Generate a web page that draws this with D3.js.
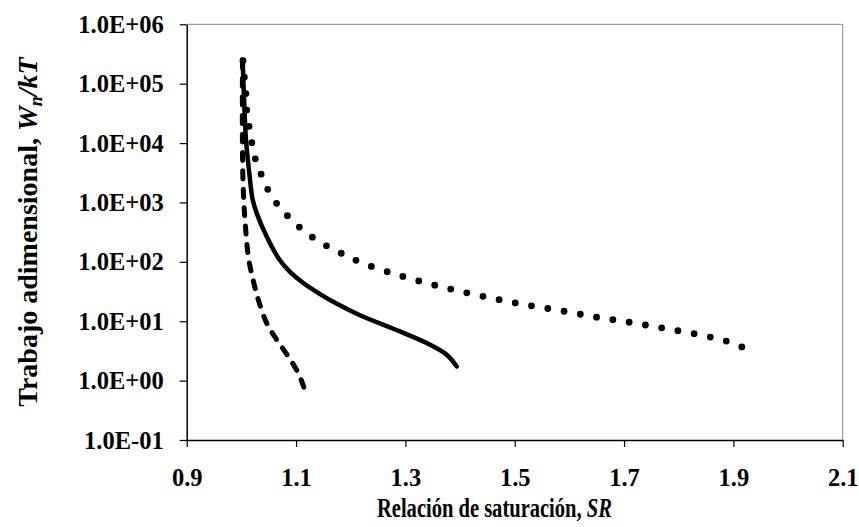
<!DOCTYPE html>
<html lang="es">

<head>
    <meta charset="UTF-8">
    <title>Trabajo adimensional vs relación de saturación</title>
    <script src="https://d3js.org/d3.v7.min.js"></script>
    <style>
        body { margin: 0; background: #fff; }
        text { font-family: "Liberation Serif", "Times New Roman", serif; font-weight: bold; fill: #000; }
    </style>
</head>

<body>
    <svg width="859" height="527"></svg>
    <script>
        // tick values
        const xTicks = [0.9, 1.1, 1.3, 1.5, 1.7, 1.9, 2.1]
        const yTicks = [1e-1, 1e0, 1e1, 1e2, 1e3, 1e4, 1e5, 1e6]

        // solid curve
        const solidSR = [1.0024, 1.005, 1.0085, 1.0145, 1.0207, 1.028, 1.0463, 1.0688, 1.089, 1.1127, 1.1402, 1.1731, 1.217, 1.290, 1.339, 1.3756, 1.394]
        const solidW = [250000, 53200, 11300, 3110, 1107, 661, 267, 112, 67.9, 44.4, 30.1, 20.0, 12.6, 6.73, 4.29, 2.73, 1.73]

        // dashed curve
        const dashSR = [1.002, 1.002, 1.0035, 1.0066, 1.0127, 1.0218, 1.031, 1.0463, 1.0646, 1.0858, 1.104, 1.1146]
        const dashW = [250000, 7670, 1630, 509, 123, 48, 23, 9.31, 4.88, 2.55, 1.34, 0.76]

        // dotted curve
        const dotSR = [1.003, 1.0055, 1.0085, 1.010, 1.0145, 1.020, 1.027, 1.038, 1.051, 1.069, 1.090, 1.112, 1.137, 1.165, 1.193, 1.220, 1.279, 1.339, 1.399, 1.460, 1.520, 1.582, 1.643, 1.704, 1.765, 1.826, 1.887, 1.916]
        const dotW = [244000, 126000, 66000, 34700, 18200, 9300, 4880, 2730, 1490, 853, 530, 346, 235, 167, 126, 96.4, 63, 43.9, 32.1, 24.2, 18.9, 15.2, 12.0, 9.8, 7.85, 6.22, 4.63, 3.67]

        let svg = d3.select('svg')
        let plotLeft = 186.7, plotRight = 842.7, plotTop = 24.3, plotBottom = 440

        let x = d3.scaleLinear().domain([0.9, 2.1]).range([plotLeft, plotRight])
        let y = d3.scaleLog().domain([1e-1, 1e6]).range([plotBottom, plotTop])

        // frame top / right
        svg.append("line").attr("x1", plotLeft).attr("x2", plotRight).attr("y1", plotTop).attr("y2", plotTop)
            .attr("stroke", "#888").attr("stroke-width", 1)
        svg.append("line").attr("x1", plotRight).attr("x2", plotRight).attr("y1", plotTop).attr("y2", plotBottom)
            .attr("stroke", "#888").attr("stroke-width", 1)

        // axes
        let xAxis = svg.append("g")
            .attr("transform", `translate(0,${plotBottom})`)
            .call(d3.axisBottom(x).tickValues(xTicks).tickFormat(d3.format(".1f")).tickSize(7).tickSizeOuter(0))
        let yAxis = svg.append("g")
            .attr("transform", `translate(${plotLeft},0)`)
            .call(d3.axisLeft(y).tickValues(yTicks)
                .tickFormat(function (d) {
                    let e = Math.round(Math.log10(d))
                    return "1.0E" + (e < 0 ? "-" : "+") + String(Math.abs(e)).padStart(2, "0")
                })
                .tickSize(7).tickSizeOuter(0))

        svg.selectAll(".domain").attr("stroke", "#000").attr("stroke-width", 1.5)
        svg.selectAll(".tick line").attr("stroke", "#000").attr("stroke-width", 1.2)
        xAxis.selectAll("text").attr("font-size", 24.5).attr("y", 0).attr("dy", 0)
            .attr("transform", "translate(0,46)")
        yAxis.selectAll("text").attr("font-size", 24.5).attr("x", -23).attr("dy", "0.33em")
        svg.selectAll(".tick text").style("font-family", '"Liberation Serif", serif').style("font-weight", "bold")

        // curves
        let line = d3.line()
            .x(function (d) { return x(d[0]) })
            .y(function (d) { return y(d[1]) })
            .curve(d3.curveCatmullRom.alpha(0.5))

        // fit a dash pattern so the path ends on a mark
        function fitDash(path, mark, gap) {
            let len = path.node().getTotalLength() - 0.5
            let n = Math.max(1, Math.round((len - mark) / (mark + gap)))
            let g = (len - mark) / n - mark
            path.attr("stroke-dasharray", mark + "," + g)
        }

        let dashPath = svg.append("path")
            .datum(d3.zip(dashSR, dashW))
            .attr("d", line)
            .attr("fill", "none").attr("stroke", "#000")
            .attr("stroke-width", 5).attr("stroke-linecap", "round")
        fitDash(dashPath, 8, 10)

        svg.append("path")
            .datum(d3.zip(solidSR, solidW))
            .attr("d", line)
            .attr("fill", "none").attr("stroke", "#000")
            .attr("stroke-width", 4.5).attr("stroke-linecap", "round")

        let dotPath = svg.append("path")
            .datum(d3.zip(dotSR, dotW))
            .attr("d", line)
            .attr("fill", "none").attr("stroke", "#000")
            .attr("stroke-width", 6.8).attr("stroke-linecap", "round")
        fitDash(dotPath, 0, 16.6)

        // axis titles (x title is drawn narrow, as in the original)
        let xt = svg.append("text")
            .attr("font-size", 27)
        xt.append("tspan").text("Relación de saturación, ")
        xt.append("tspan").attr("font-style", "italic").text("SR")
        let sx = 235 / xt.node().getComputedTextLength()
        xt.attr("transform", `translate(377,517) scale(${sx},1)`)

        let yt = svg.append("text")
            .attr("transform", "translate(37,232) rotate(-90)")
            .attr("text-anchor", "middle")
            .attr("font-size", 28)
        yt.append("tspan").text("Trabajo adimensional, ")
        yt.append("tspan").attr("font-style", "italic").text("W")
        yt.append("tspan").attr("font-style", "italic").attr("font-size", 18).attr("dy", 5).text("n")
        yt.append("tspan").attr("font-style", "italic").attr("dy", -5).text("/kT")
    </script>
</body>

</html>
